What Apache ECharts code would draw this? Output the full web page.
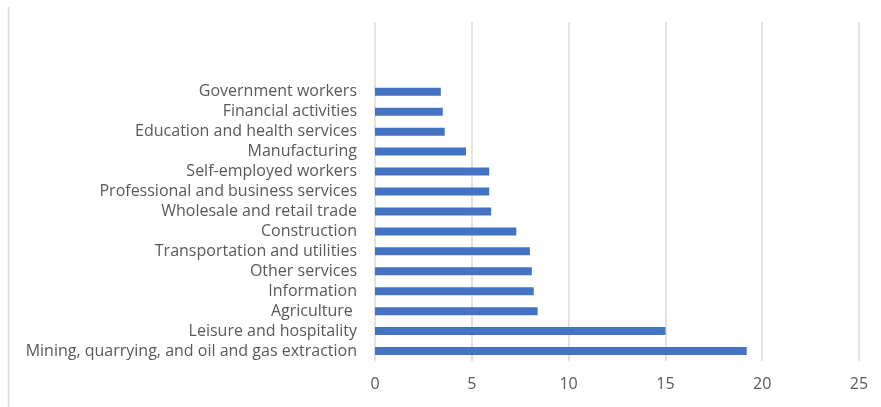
<!DOCTYPE html>
<html>
<head>
<meta charset="utf-8">
<script src="https://cdn.jsdelivr.net/npm/echarts@6/dist/echarts.min.js"></script>
<style>
  html, body { margin: 0; padding: 0; background: #fff; }
  #chart { width: 881px; height: 407px; }
</style>
</head>
<body>
<div id="chart"></div>
<script>
// Industries, listed bottom to top; three empty slots keep room above the bars
const categories = [
  'Mining, quarrying, and oil and gas extraction',
  'Leisure and hospitality',
  'Agriculture ',
  'Information',
  'Other services',
  'Transportation and utilities',
  'Construction',
  'Wholesale and retail trade',
  'Professional and business services',
  'Self-employed workers',
  'Manufacturing',
  'Education and health services',
  'Financial activities',
  'Government workers',
  '', '', ''
];

const values = [19.2, 15.0, 8.4, 8.2, 8.1, 8.0, 7.3, 6.0, 5.9, 5.9, 4.7, 3.6, 3.5, 3.4, null, null, null];

const xTicks = [0, 5, 10, 15, 20, 25];

const chart = echarts.init(document.getElementById('chart'), null, { renderer: 'canvas' });

chart.setOption({
  animation: false,
  backgroundColor: '#ffffff',
  textStyle: { fontFamily: '"Open Sans", sans-serif' },
  grid: { left: 375, right: 22, top: 22, bottom: 46, containLabel: false },
  xAxis: {
    type: 'value',
    min: xTicks[0],
    max: xTicks[xTicks.length - 1],
    interval: xTicks[1] - xTicks[0],
    axisLine: { show: false },
    axisTick: { show: false },
    splitLine: { show: true, lineStyle: { color: '#d9d9d9', width: 1.5 } },
    axisLabel: { color: '#595959', fontSize: 16, margin: 15, fontFamily: '"Open Sans", sans-serif' }
  },
  yAxis: {
    type: 'category',
    data: categories,
    axisLine: { show: false },
    axisTick: { show: false },
    splitLine: { show: false },
    axisLabel: { color: '#595959', fontSize: 16, margin: 18, fontFamily: '"Open Sans", sans-serif', interval: 0 }
  },
  graphic: [{
    type: 'line',
    shape: { x1: 8.5, y1: 7, x2: 8.5, y2: 407 },
    style: { stroke: '#d9d9d9', lineWidth: 1.5 },
    silent: true
  }],
  series: [{
    type: 'bar',
    data: values,
    barWidth: 8,
    itemStyle: { color: '#4472c4' }
  }]
});
</script>
</body>
</html>
